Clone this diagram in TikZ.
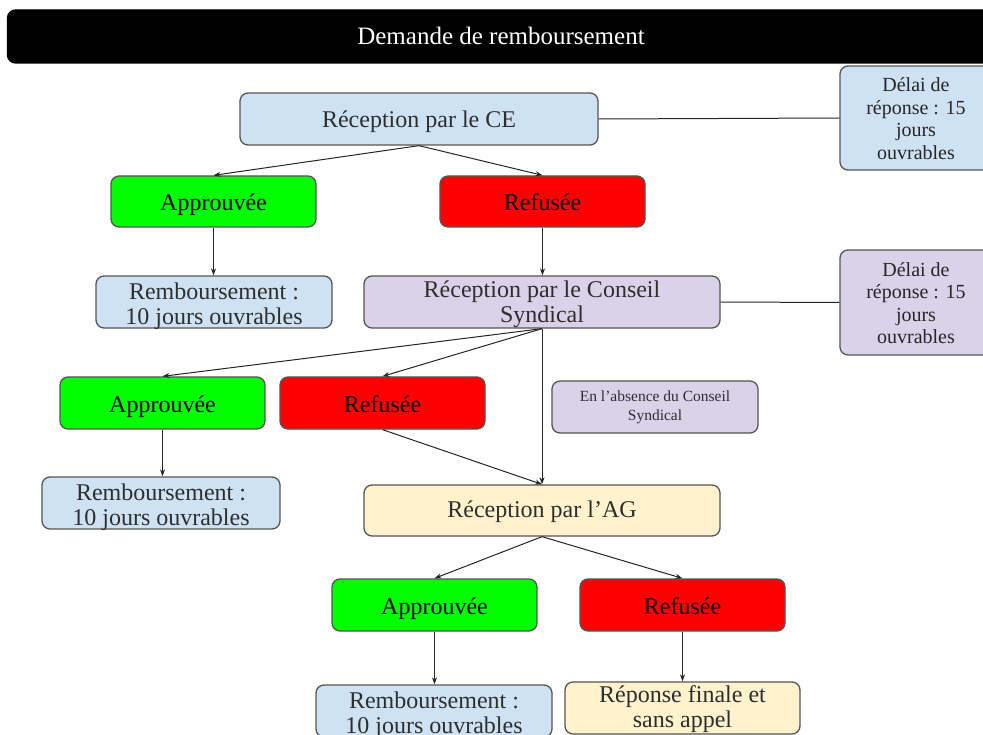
\documentclass[tikz,border=0pt]{standalone}
\usepackage{fontspec}
\setmainfont{Liberation Serif}
\usetikzlibrary{arrows.meta}
\definecolor{ltblue}{HTML}{CFE2F3}
\definecolor{lavend}{HTML}{D9D2E9}
\definecolor{ltyellow}{HTML}{FFF2CC}
\definecolor{brightgreen}{HTML}{00FF00}
\definecolor{brightred}{HTML}{FF0000}
\definecolor{edgegray}{HTML}{555555}
\definecolor{txtgray}{HTML}{2E2E2E}
% text block lowered by #1, keeping its box dimensions
\newcommand\tblock[2]{\raisebox{-#1}[\height][\depth]{\begin{tabular}{@{}c@{}}#2\end{tabular}}}
\begin{document}
\begin{tikzpicture}[x=1pt,y=-1pt,
  box/.style={draw=edgegray, line width=1.3pt, rounded corners=8pt, inner sep=0pt,
    text=txtgray, font=\fontsize{24}{25}\selectfont},
  dbox/.style={box, text=black!85, font=\fontsize{20}{22.5}\selectfont},
  sbox/.style={box, font=\fontsize{15.5}{19}\selectfont},
  arr/.style={draw=black!85, line width=1pt, -{Stealth[length=7pt,width=5pt]}},
  lnk/.style={draw=black!85, line width=1pt}]
\useasboundingbox (0,0) rectangle (983,735);
\clip (0,0) rectangle (983,735);
% title
\node[box, draw=black, fill=black, text=white, minimum width=987pt, minimum height=53pt, font=\fontsize{25}{26}\selectfont] (title) at (501,36.5) {\tblock{3pt}{Demande de remboursement}};
% level 1
\node[box, fill=ltblue, minimum width=358pt, minimum height=52pt] (ce) at (419,119) {\tblock{4pt}{Réception par le CE}};
\node[dbox, fill=ltblue, minimum width=152pt, minimum height=104pt] (d1) at (916,118) {\tblock{3pt}{Délai de\\réponse : 15\\jours\\ouvrables}};
\node[box, fill=brightgreen, text=black, minimum width=205pt, minimum height=51pt] (a1) at (213.5,201.5) {\tblock{4pt}{Approuvée}};
\node[box, fill=brightred, text=black, minimum width=205pt, minimum height=51pt] (r1) at (542.5,201.5) {\tblock{4pt}{Refusée}};
\node[box, fill=ltblue, minimum width=236pt, minimum height=52pt] (rb1) at (214,302) {\tblock{5pt}{Remboursement :\\10 jours ouvrables}};
% level 2
\node[box, fill=lavend, minimum width=356pt, minimum height=52pt] (cs) at (542,302) {\tblock{3.5pt}{Réception par le Conseil\\Syndical}};
\node[dbox, fill=lavend, minimum width=152pt, minimum height=105pt] (d2) at (916,302.5) {\tblock{3pt}{Délai de\\réponse : 15\\jours\\ouvrables}};
\node[box, fill=brightgreen, text=black, minimum width=205pt, minimum height=52pt] (a2) at (162.5,403) {\tblock{4pt}{Approuvée}};
\node[box, fill=brightred, text=black, minimum width=205pt, minimum height=52pt] (r2) at (382.5,403) {\tblock{4pt}{Refusée}};
\node[sbox, fill=lavend, minimum width=206pt, minimum height=52pt] (ea) at (655,407) {\tblock{0pt}{En l'absence du Conseil\\Syndical}};
\node[box, fill=ltblue, minimum width=238pt, minimum height=52pt] (rb2) at (161,503) {\tblock{5pt}{Remboursement :\\10 jours ouvrables}};
% level 3
\node[box, fill=ltyellow, minimum width=356pt, minimum height=51pt] (ag) at (542,510.5) {\tblock{1.5pt}{Réception par l’AG}};
\node[box, fill=brightgreen, text=black, minimum width=205pt, minimum height=52pt] (a3) at (434.5,605) {\tblock{4pt}{Approuvée}};
\node[box, fill=brightred, text=black, minimum width=205pt, minimum height=52pt] (r3) at (682.5,605) {\tblock{4pt}{Refusée}};
\node[box, fill=ltblue, minimum width=236pt, minimum height=52pt] (rb3) at (434,711) {\tblock{5pt}{Remboursement :\\10 jours ouvrables}};
\node[box, fill=ltyellow, minimum width=235pt, minimum height=52pt] (rf) at (682.5,708) {\tblock{1.5pt}{Réponse finale et\\sans appel}};
% connectors
\draw[lnk] (ce.east) -- (d1.west);
\draw[lnk] (cs.east) -- (d2.west);
\draw[arr] (ce.south) -- (a1.north);
\draw[arr] (ce.south) -- (r1.north);
\draw[arr] (a1.south) -- (a1.south |- rb1.north);
\draw[arr] (r1.south) -- (r1.south |- cs.north);
\draw[arr] (cs.south) -- (a2.north);
\draw[arr] (cs.south) -- (r2.north);
\draw[arr] (cs.south) -- (ag.north);
\draw[arr] (a2.south) -- (a2.south |- rb2.north);
\draw[arr] (r2.south) -- (ag.north);
\draw[arr] (ag.south) -- (a3.north);
\draw[arr] (ag.south) -- (r3.north);
\draw[arr] (a3.south) -- (a3.south |- rb3.north);
\draw[arr] (r3.south) -- (r3.south |- rf.north);
\end{tikzpicture}
\end{document}
